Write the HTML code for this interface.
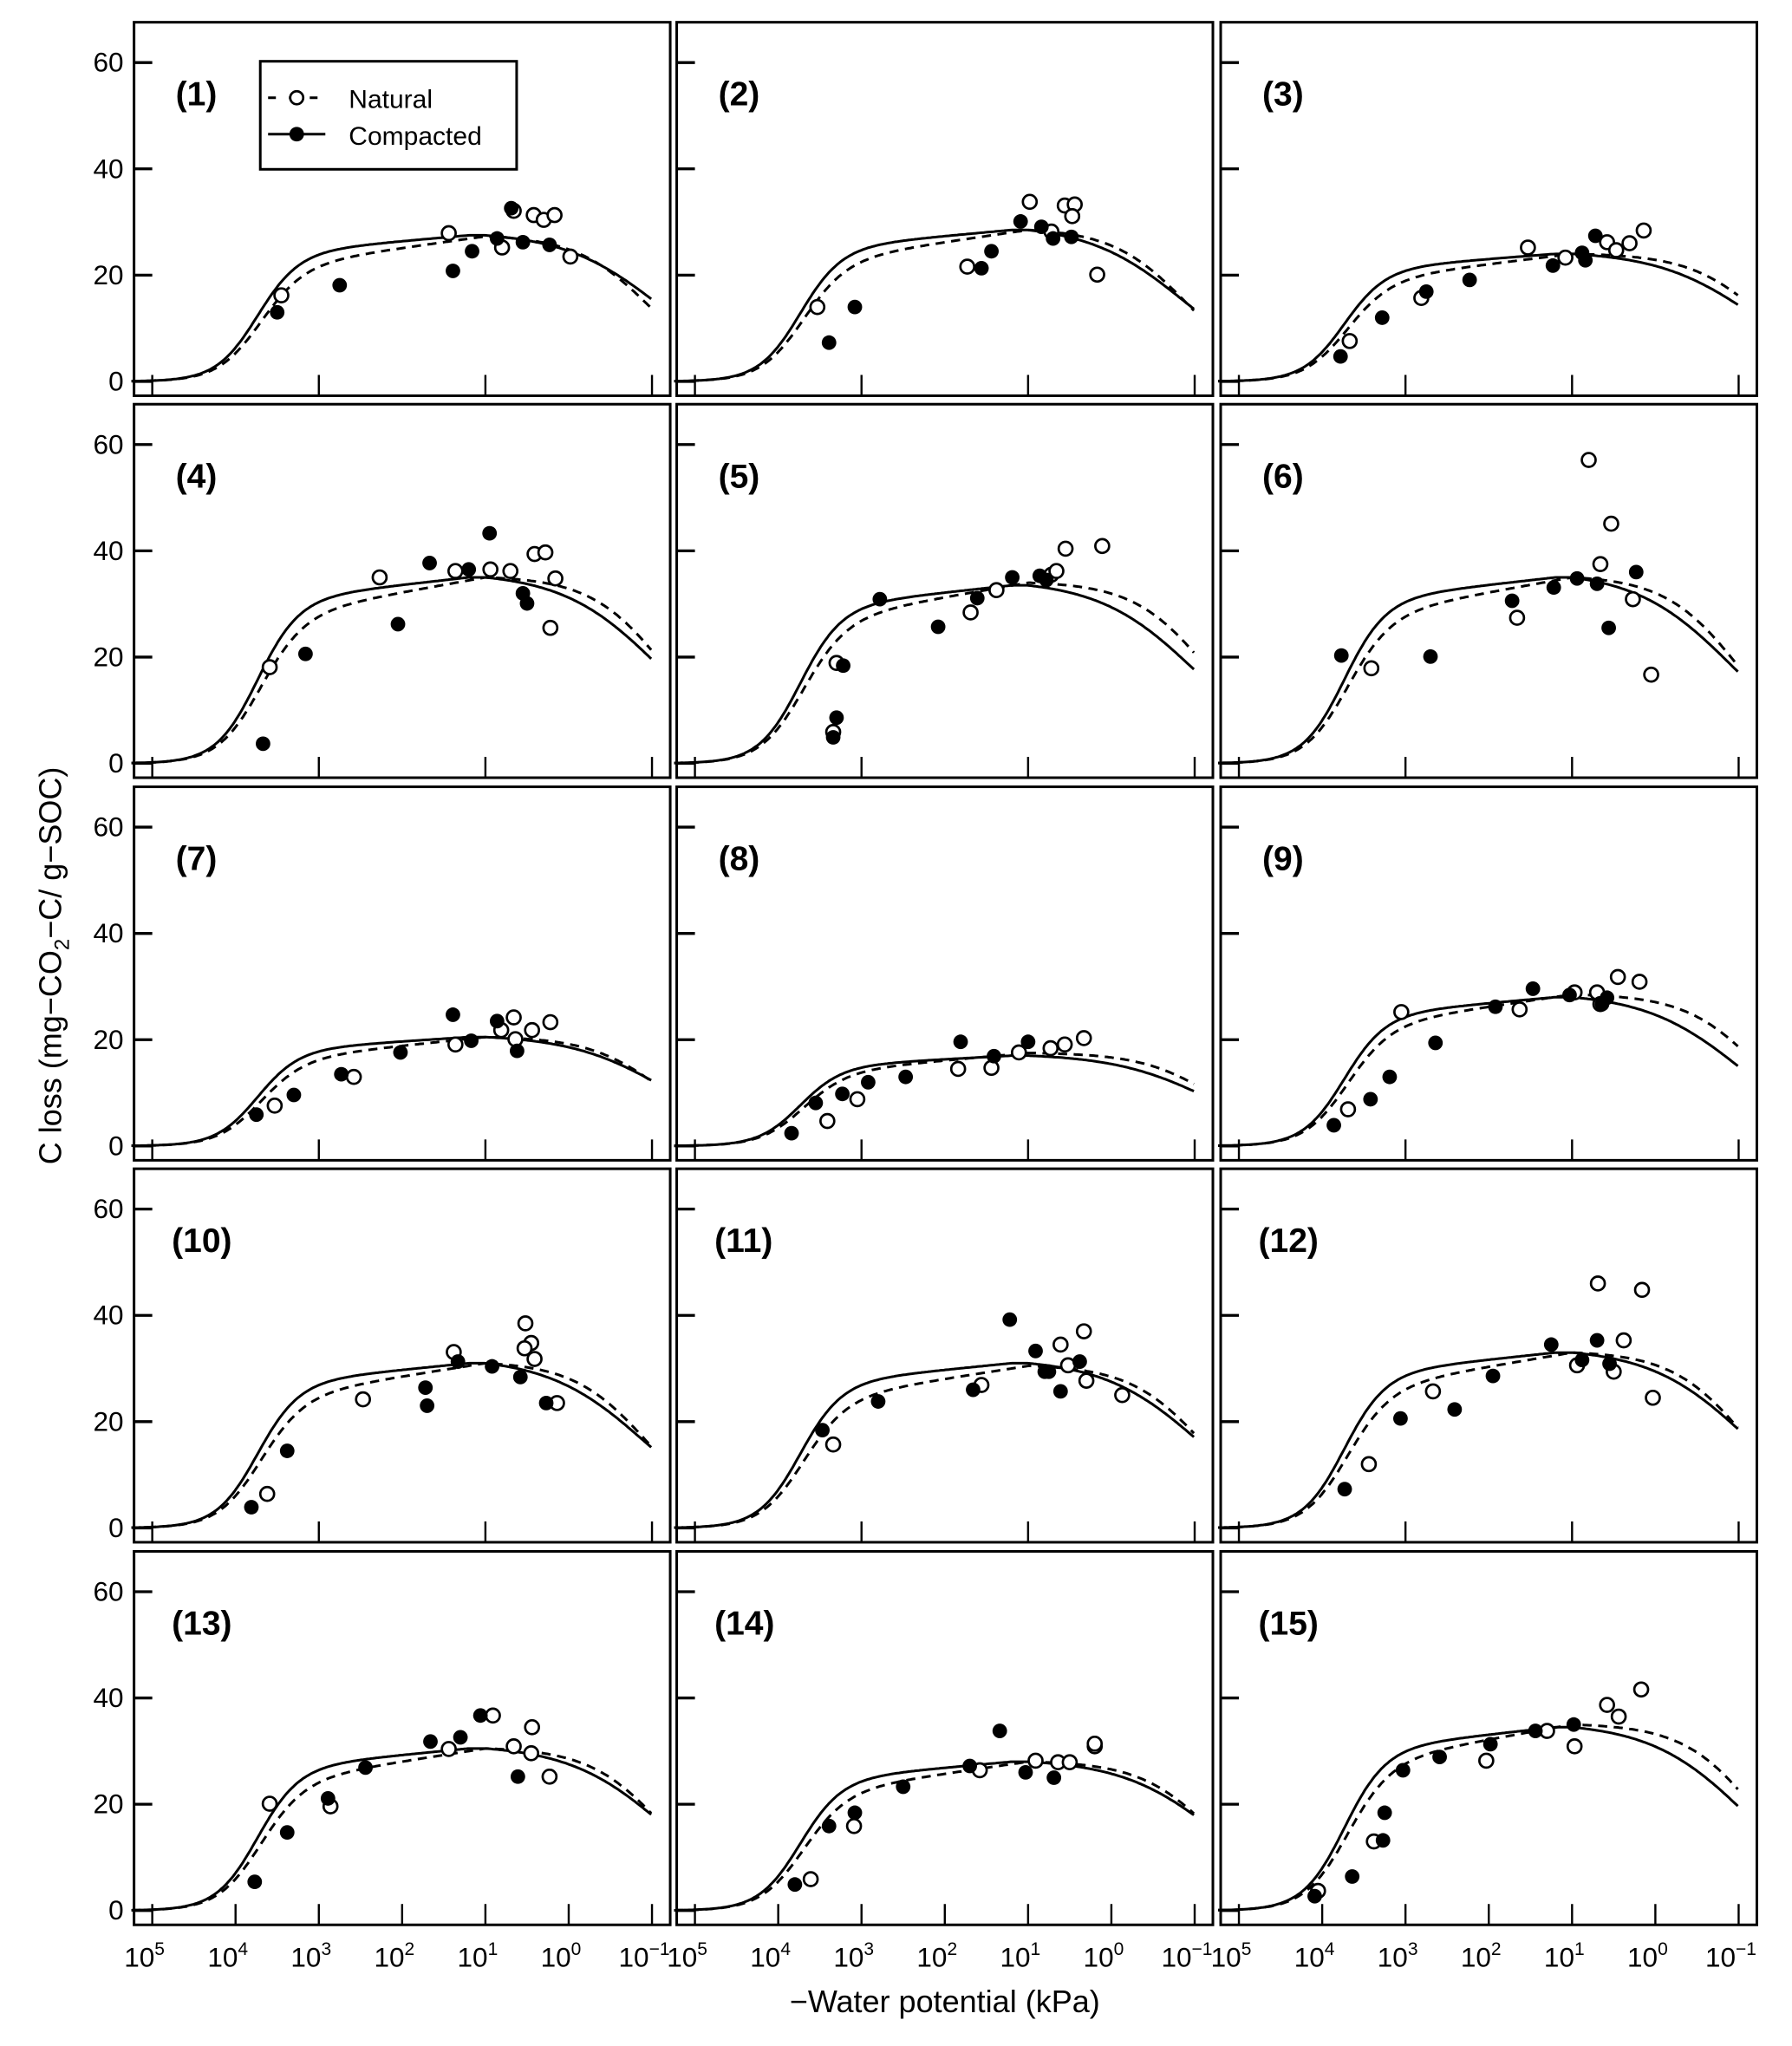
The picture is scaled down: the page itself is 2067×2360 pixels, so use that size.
<!DOCTYPE html>
<html><head><meta charset="utf-8"><style>
html,body{margin:0;padding:0;background:#fff}
svg{display:block}
text{font-family:"Liberation Sans",Arial,sans-serif;fill:#000}
</style></head><body>
<svg id="chart" width="2067" height="2360" viewBox="0 0 1377 1572" xmlns="http://www.w3.org/2000/svg">
<text transform="translate(47,742) rotate(-90)" text-anchor="middle" font-size="24">C loss (mg−CO<tspan font-size="16" dy="6">2</tspan><tspan dy="-6">−C/ g−SOC)</tspan></text>
<text x="726" y="1546" text-anchor="middle" font-size="24">−Water potential (kPa)</text>
</svg>
<script>
// panel data: arrays of [log10(-psi), C loss]
const panelLabels = ["(1)","(2)","(3)","(4)","(5)","(6)","(7)","(8)","(9)","(10)","(11)","(12)","(13)","(14)","(15)"];
const yTicks = [0,20,40,60];
const xTickExps = [5,4,3,2,1,0,-1];
const peakSolid = [27.5,28.5,24,35,33.5,35,20.5,17,28,31,31,33,30.5,28,34.5];
const endSolid  = [15,13,14,19,17,16.5,12,10,14.5,14.5,16.5,18,17.5,17.5,19];
const peakDashed= [27.3,28.5,24,35,34,35,20.5,17.5,28.5,31,30.5,33,30.5,28,35];
const endDashed = [13.5,13,16,21,20.5,18,12,11.5,18.5,15,17.5,18.5,18,18,22.5];
const naturalPts = [
 [[3.45,16.2],[1.44,27.9],[0.80,25.2],[0.66,32.1],[0.42,31.3],[0.30,30.4],[0.17,31.3],[-0.02,23.5]],
 [[3.53,14],[1.73,21.6],[0.98,33.8],[0.72,28.2],[0.56,33.1],[0.44,33.3],[0.47,31.1],[0.17,20.1]],
 [[3.67,7.6],[2.81,15.7],[1.53,25.2],[1.08,23.3],[0.58,26.2],[0.47,24.7],[0.31,26],[0.14,28.4]],
 [[3.59,18.1],[2.27,35],[1.36,36.2],[0.94,36.5],[0.70,36.2],[0.41,39.4],[0.28,39.7],[0.22,25.5],[0.16,34.8]],
 [[3.34,5.9],[3.30,18.9],[1.69,28.4],[1.38,32.6],[0.72,35.5],[0.66,36.2],[0.55,40.4],[0.11,40.9]],
 [[3.41,17.9],[1.66,27.4],[0.80,57.1],[0.66,37.5],[0.53,45.1],[0.27,30.9],[0.05,16.7]],
 [[3.53,7.6],[2.58,13],[1.36,19.1],[0.81,21.8],[0.66,24.2],[0.64,20.1],[0.44,21.8],[0.22,23.3]],
 [[3.41,4.7],[3.05,8.8],[1.84,14.5],[1.44,14.7],[1.11,17.6],[0.73,18.4],[0.56,19.1],[0.33,20.3]],
 [[3.69,6.9],[3.05,25.2],[1.63,25.7],[0.97,28.9],[0.70,28.9],[0.66,26.7],[0.45,31.8],[0.19,30.9]],
 [[3.62,6.4],[2.47,24.2],[1.38,33.1],[0.52,38.5],[0.45,34.8],[0.53,33.8],[0.41,31.8],[0.14,23.5]],
 [[3.34,15.7],[1.56,26.9],[0.61,34.5],[0.52,30.6],[0.33,37],[0.30,27.7],[-0.13,25]],
 [[3.44,12],[2.67,25.7],[0.94,30.6],[0.69,46],[0.50,29.4],[0.38,35.3],[0.16,44.8],[0.03,24.5]],
 [[3.59,20.1],[2.86,19.6],[1.44,30.4],[0.91,36.7],[0.66,30.9],[0.45,29.6],[0.44,34.5],[0.23,25.2]],
 [[3.61,5.9],[3.09,15.9],[1.58,26.4],[0.91,28.2],[0.64,27.9],[0.50,27.9],[0.20,30.9],[0.20,31.4]],
 [[4.05,3.7],[3.38,13],[2.03,28.2],[1.30,33.8],[0.97,30.9],[0.58,38.7],[0.44,36.5],[0.17,41.6]]
];
const compactedPts = [
 [[3.5,13],[2.75,18.1],[1.39,20.8],[1.16,24.5],[0.86,26.9],[0.69,32.6],[0.55,26.2],[0.23,25.7]],
 [[3.39,7.3],[3.08,14],[1.56,21.3],[1.44,24.5],[1.09,30.1],[0.84,29.1],[0.70,26.9],[0.48,27.2]],
 [[3.78,4.7],[3.28,12],[2.75,16.9],[2.23,19.1],[1.23,21.8],[0.84,22.8],[0.72,27.4],[0.88,24.2]],
 [[3.67,3.7],[3.16,20.6],[2.05,26.2],[1.67,37.7],[1.20,36.5],[0.95,43.3],[0.55,32],[0.50,30.1]],
 [[3.34,4.9],[3.30,8.6],[3.22,18.4],[2.78,30.9],[2.08,25.7],[1.61,31.1],[1.19,35],[0.86,35.3],[0.78,34.5]],
 [[3.77,20.3],[2.70,20.1],[1.72,30.6],[1.22,33.1],[0.94,34.8],[0.70,33.8],[0.56,25.5],[0.23,36]],
 [[3.75,5.9],[3.30,9.6],[2.73,13.5],[2.02,17.6],[1.39,24.7],[1.17,19.8],[0.86,23.5],[0.62,17.9]],
 [[3.84,2.4],[3.55,8.1],[3.23,9.8],[2.92,12],[2.47,13],[1.81,19.6],[1.41,16.9],[1.0,19.6]],
 [[3.86,3.9],[3.42,8.8],[3.19,13],[2.64,19.4],[1.92,26.2],[1.47,29.6],[1.03,28.4],[0.64,26.7],[0.58,27.9]],
 [[3.81,3.9],[3.38,14.5],[1.72,26.4],[1.70,23],[1.33,31.3],[0.92,30.4],[0.58,28.4],[0.27,23.5]],
 [[3.47,18.4],[2.80,23.8],[1.66,26],[1.22,39.2],[0.91,33.3],[0.80,29.4],[0.75,29.4],[0.61,25.7],[0.38,31.3]],
 [[3.73,7.3],[3.06,20.6],[2.41,22.3],[1.95,28.6],[1.25,34.5],[0.88,31.6],[0.70,35.3],[0.55,30.9]],
 [[3.77,5.4],[3.38,14.7],[2.89,21.1],[2.44,26.9],[1.66,31.8],[1.30,32.6],[1.06,36.7],[0.61,25.2]],
 [[3.80,4.9],[3.39,15.9],[3.08,18.4],[2.50,23.3],[1.70,27.2],[1.34,33.8],[1.03,26],[0.69,25]],
 [[4.09,2.7],[3.64,6.4],[3.27,13.2],[3.25,18.4],[3.03,26.4],[2.59,28.9],[1.98,31.3],[1.44,33.8],[0.98,35]]
];

const NS='http://www.w3.org/2000/svg';
const svg=document.getElementById('chart');
const colLeft=[103,520,938], rowZero=[293,586.5,880.5,1174,1468];
const W=412, H=287;
function mk(tag,attrs,parent){const e=document.createElementNS(NS,tag);for(const k in attrs)e.setAttribute(k,attrs[k]);(parent||svg).appendChild(e);return e;}
function model(lx,peak,end,solid){
  const m=solid?3.75:3.72, k=solid?4.0:3.8;
  const rise=1/(1+Math.exp(k*(lx-m)));
  const climb=solid?(1-0.05*Math.max(0,lx-1.2)):(1-0.08*Math.max(0,lx-1.0));
  const s=solid?1.7:2.2;
  const r=end/peak;
  const c=Math.log(1/r-1)/s-1;
  const fall=1/(1+Math.exp(-s*(lx-c)));
  const norm=1/(1+Math.exp(-s*(1-c)));
  return peak*rise*climb*Math.min(1,fall/norm);
}
for(let p=0;p<15;p++){
  const col=p%3,row=Math.floor(p/3);
  const L=colLeft[col], Z=rowZero[row], T=Z-276;
  const xS=lx=>L+14+(5-lx)*64;
  const yS=v=>Z-v*245/60;
  const g=mk('g',{});
  
  
  const fr=mk('rect',{x:L,y:T,width:W,height:H,fill:'none',stroke:'#000','stroke-width':2},g);
  
  
  yTicks.forEach(v=>{
    const t=mk('line',{x1:L,x2:L+14,y1:yS(v),y2:yS(v),stroke:'#000','stroke-width':2.2},g);
    
    
    if(col===0){
      const tl=mk('text',{x:L-8,y:yS(v)+7,'text-anchor':'end','font-size':21},g);
      tl.textContent=v;
      
      
    }
  });
  xTickExps.forEach(e=>{
    if(row<4 && (e%2===0)) return;
    const t=mk('line',{x1:xS(e),x2:xS(e),y1:T+H,y2:T+H-16,stroke:'#000','stroke-width':1.6},g);
    
    
    if(row===4){
      const tl=mk('text',{x:xS(e)-6,y:T+H+32,'text-anchor':'middle','font-size':21},g);
      
      
      tl.appendChild(document.createTextNode('10'));
      const sp=document.createElementNS(NS,'tspan');
      sp.setAttribute('dy','-9');sp.setAttribute('font-size','14');
      sp.textContent=e<0?'−'+(-e):String(e);
      tl.appendChild(sp);
    }
  });
  const lb=mk('text',{x:L+(p>=9?29:32),y:T+64,'font-size':26,'font-weight':'bold'},g);
  lb.textContent=panelLabels[p];
  
  
  [[true,peakSolid[p],endSolid[p]],[false,peakDashed[p],endDashed[p]]].forEach(([solid,pk,en])=>{
    let d='';
    for(let lx=5.25;lx>=-1.0001;lx-=0.02){d+=(d?'L':'M')+xS(lx).toFixed(1)+','+yS(model(lx,pk,en,solid)).toFixed(1);}
    const path=mk('path',{d:d,fill:'none',stroke:'#000','stroke-width':2,'stroke-dasharray':solid?'none':'7,5'},g);
    
    
  });
  naturalPts[p].forEach(([lx,v])=>{
    const c=mk('circle',{cx:xS(lx),cy:yS(v),r:5.3,fill:'#fff',stroke:'#000','stroke-width':1.8},g);
    
    
  });
  compactedPts[p].forEach(([lx,v])=>{
    const c=mk('circle',{cx:xS(lx),cy:yS(v),r:5.6,fill:'#000'},g);
    
    
  });
}
const lg=mk('g',{});


mk('rect',{x:200,y:47,width:197,height:83,fill:'#fff',stroke:'#000','stroke-width':2},lg);
mk('line',{x1:206,x2:250,y1:75,y2:75,stroke:'#000','stroke-width':2,'stroke-dasharray':'6,10'},lg);
mk('circle',{cx:228,cy:75,r:5,fill:'#fff',stroke:'#000','stroke-width':1.8},lg);
mk('line',{x1:206,x2:250,y1:103,y2:103,stroke:'#000','stroke-width':2},lg);
mk('circle',{cx:228,cy:103,r:5.6,fill:'#000'},lg);
const t1=mk('text',{x:268,y:83,'font-size':20},lg);t1.textContent='Natural';


const t2=mk('text',{x:268,y:111,'font-size':20},lg);t2.textContent='Compacted';


</script>
</body></html>
